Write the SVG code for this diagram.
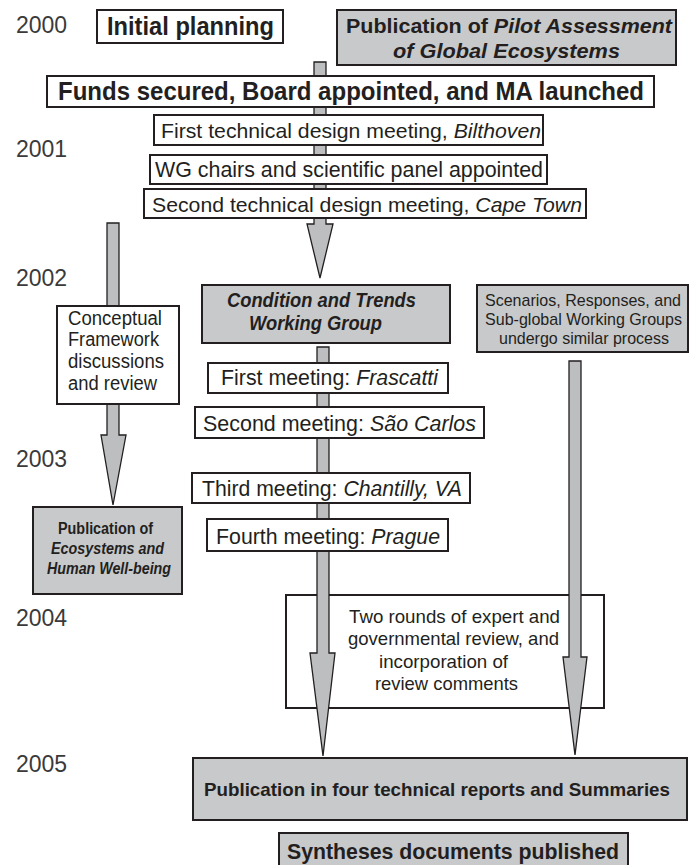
<svg xmlns="http://www.w3.org/2000/svg" width="693" height="865" viewBox="0 0 693 865">
<style>
text{font-family:"Liberation Sans",Arial,Helvetica,sans-serif;fill:#231f20}
.yr{font-size:23px;fill:#3a3a3a}
.box{fill:#ffffff;stroke:#231f20;stroke-width:2}
.gbox{fill:#c8c9cb;stroke:#231f20;stroke-width:2}
.arr{fill:#bcbec0;stroke:#231f20;stroke-width:1.3;stroke-linejoin:miter}
.b{font-weight:bold}
.i{font-style:italic}
</style>
<rect x="0" y="0" width="693" height="865" fill="#ffffff"/>
<g id="years">
<text class="yr" x="16" y="33">2000</text>
<text class="yr" x="16" y="157">2001</text>
<text class="yr" x="16" y="286">2002</text>
<text class="yr" x="16" y="467">2003</text>
<text class="yr" x="16" y="626">2004</text>
<text class="yr" x="16" y="772">2005</text>
</g>
<g id="n-review">
<rect class="box" x="286" y="595" width="318" height="113"/>
<text x="349" y="623" font-size="19" textLength="211" lengthAdjust="spacingAndGlyphs">Two rounds of expert and</text>
<text x="348" y="645" font-size="19" textLength="211" lengthAdjust="spacingAndGlyphs">governmental review, and</text>
<text x="379" y="668" font-size="19" textLength="129" lengthAdjust="spacingAndGlyphs">incorporation of</text>
<text x="375" y="690" font-size="19" textLength="143" lengthAdjust="spacingAndGlyphs">review comments</text>
</g>
<g id="connectors">
<polygon class="arr" points="314,62 326,62 326,224 333,224 320,278 307,224 314,224"/>
<polygon class="arr" points="107,223 119,223 119,435 126,435 113,505 101,435 107,435"/>
<polygon class="arr" points="317,347 329,347 329,653 335,653 323,756 310,653 317,653"/>
<polygon class="arr" points="569,361 581,361 581,657 587,657 575,755 563,657 569,657"/>
</g>
<g id="n-initial">
<rect class="box" x="97" y="10" width="186" height="33"/>
<text class="b" x="107" y="35" font-size="25" textLength="167" lengthAdjust="spacingAndGlyphs">Initial planning</text>
</g>
<g id="n-pilot">
<rect class="gbox" x="337" y="10" width="339" height="55"/>
<text class="b" x="346" y="33" font-size="21" textLength="326" lengthAdjust="spacingAndGlyphs">Publication of <tspan class="i">Pilot Assessment</tspan></text>
<text class="b i" x="393" y="58" font-size="21" textLength="227" lengthAdjust="spacingAndGlyphs">of Global Ecosystems</text>
</g>
<g id="n-funds">
<rect class="box" x="47" y="76" width="607" height="31"/>
<text class="b" x="58" y="100" font-size="25" textLength="586" lengthAdjust="spacingAndGlyphs">Funds secured, Board appointed, and MA launched</text>
</g>
<g id="n-first-tech">
<rect class="box" x="154" y="115" width="389" height="30"/>
<text x="161" y="138" font-size="21" textLength="380" lengthAdjust="spacingAndGlyphs">First technical design meeting, <tspan class="i">Bilthoven</tspan></text>
</g>
<g id="n-wg">
<rect class="box" x="150" y="155" width="397" height="29"/>
<text x="155" y="177" font-size="22" textLength="388" lengthAdjust="spacingAndGlyphs">WG chairs and scientific panel appointed</text>
</g>
<g id="n-second-tech">
<rect class="box" x="144" y="189" width="442" height="29"/>
<text x="152" y="212" font-size="21" textLength="430" lengthAdjust="spacingAndGlyphs">Second technical design meeting, <tspan class="i">Cape Town</tspan></text>
</g>
<g id="n-condition">
<rect class="gbox" x="202" y="285" width="248" height="58"/>
<text class="b i" x="227" y="307" font-size="20" textLength="189" lengthAdjust="spacingAndGlyphs">Condition and Trends</text>
<text class="b i" x="249" y="330" font-size="20" textLength="133" lengthAdjust="spacingAndGlyphs">Working Group</text>
</g>
<g id="n-scenarios">
<rect class="gbox" x="477" y="285" width="211" height="67"/>
<text x="485" y="306" font-size="17" textLength="196" lengthAdjust="spacingAndGlyphs">Scenarios, Responses, and</text>
<text x="485" y="325" font-size="17" textLength="197" lengthAdjust="spacingAndGlyphs">Sub-global Working Groups</text>
<text x="499" y="344" font-size="17" textLength="170" lengthAdjust="spacingAndGlyphs">undergo similar process</text>
</g>
<g id="n-conceptual">
<rect class="box" x="57" y="306" width="122" height="98"/>
<text x="68" y="325" font-size="20" textLength="94" lengthAdjust="spacingAndGlyphs">Conceptual</text>
<text x="68" y="346" font-size="20" textLength="91" lengthAdjust="spacingAndGlyphs">Framework</text>
<text x="68" y="368" font-size="20" textLength="96" lengthAdjust="spacingAndGlyphs">discussions</text>
<text x="68" y="390" font-size="20" textLength="89" lengthAdjust="spacingAndGlyphs">and review</text>
</g>
<g id="n-m1">
<rect class="box" x="208" y="363" width="240" height="30"/>
<text x="221" y="385" font-size="22" textLength="217" lengthAdjust="spacingAndGlyphs">First meeting: <tspan class="i">Frascatti</tspan></text>
</g>
<g id="n-m2">
<rect class="box" x="195" y="407" width="289" height="31"/>
<text x="203" y="431" font-size="22" textLength="273" lengthAdjust="spacingAndGlyphs">Second meeting: <tspan class="i">São Carlos</tspan></text>
</g>
<g id="n-m3">
<rect class="box" x="192" y="473" width="278" height="30"/>
<text x="202" y="496" font-size="22" textLength="260" lengthAdjust="spacingAndGlyphs">Third meeting: <tspan class="i">Chantilly, VA</tspan></text>
</g>
<g id="n-m4">
<rect class="box" x="207" y="519" width="241" height="32"/>
<text x="216" y="544" font-size="22" textLength="224" lengthAdjust="spacingAndGlyphs">Fourth meeting: <tspan class="i">Prague</tspan></text>
</g>
<g id="n-pub-eco">
<rect class="gbox" x="33" y="507" width="149" height="87"/>
<text class="b" x="58" y="534" font-size="16" textLength="95" lengthAdjust="spacingAndGlyphs">Publication of</text>
<text class="b i" x="51" y="554" font-size="16" textLength="113" lengthAdjust="spacingAndGlyphs">Ecosystems and</text>
<text class="b i" x="47" y="574" font-size="16" textLength="124" lengthAdjust="spacingAndGlyphs">Human Well-being</text>
</g>
<g id="n-pub-four">
<rect class="gbox" x="193" y="758" width="494" height="62"/>
<text class="b" x="204" y="796" font-size="19" textLength="466" lengthAdjust="spacingAndGlyphs">Publication in four technical reports and Summaries</text>
</g>
<g id="n-syntheses">
<rect class="gbox" x="279" y="833" width="349" height="40"/>
<text class="b" x="287" y="859" font-size="22" textLength="332" lengthAdjust="spacingAndGlyphs">Syntheses documents published</text>
</g>
</svg>
